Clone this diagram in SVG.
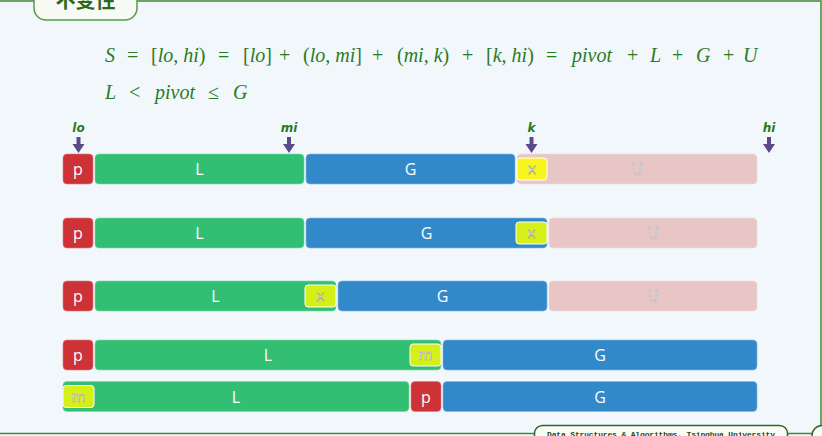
<svg xmlns="http://www.w3.org/2000/svg" width="822" height="436" viewBox="0 0 822 436">
<defs>
<style>
.bg{fill:#f2f7fc}
.frame{stroke:#3f8a33;stroke-width:1.5;fill:none}
.math{font-family:"Liberation Serif","DejaVu Serif",serif;font-size:20px;fill:#2b7a24}
.it{font-style:italic}
.lbl{font-family:"DejaVu Sans",sans-serif;font-size:12px;font-weight:bold;font-style:italic;fill:#2b7a1c;text-anchor:middle}
.arrow{fill:#5b4a8a}
.p{fill:#cc3236;stroke:#e07a7a;stroke-width:0.6}
.L{fill:#32bf74;stroke:#7cd9a6;stroke-width:0.6}
.G{fill:#3289c9;stroke:#7fb7e3;stroke-width:0.6}
.U{fill:#e8c6c6;stroke:#f0dada;stroke-width:0.6}
.xy{fill:#f8f51e;stroke:#ffffff;stroke-width:1}
.xg{fill:#d5ef18;stroke:#ffffff;stroke-width:1}
.t{font-family:"Open Sans","Noto Sans",sans-serif;font-size:16px;fill:#ffffff;text-anchor:middle}
.tu{font-family:"Open Sans","Noto Sans",sans-serif;font-size:16px;fill:#f8f8f8;stroke:#a8a0a0;stroke-width:0.5;text-anchor:middle}
.ts{font-family:"Open Sans","Noto Sans",sans-serif;font-size:15px;fill:#f6f6f6;stroke:#909090;stroke-width:0.45;text-anchor:middle}
</style>
<path id="arr" d="M-2,-16 H2 V-9 H6 L0,0 L-6,-9 H-2 Z"/>
</defs>
<rect class="bg" x="0" y="0" width="822" height="436"/>
<g id="frame">
<path class="frame" d="M0,1 H34 M137,1 H821 V433.5 M0,433.5 H534 M788,433.5 H812"/>
<rect x="34" y="-12" width="103" height="32" rx="12" fill="#f8faf6" stroke="#5a9a4a" stroke-width="1.5"/>
<text x="85.5" y="8" font-family="Noto Sans CJK SC,sans-serif" font-size="20" font-weight="bold" fill="#2a6a1a" text-anchor="middle">不变性</text>
<rect x="534.5" y="425.5" width="253" height="25" rx="8" fill="#fafcf8" stroke="#2a6a1a" stroke-width="1.5"/>
<text x="547" y="437" font-family="Liberation Mono,monospace" font-size="8" font-weight="bold" fill="#1f4a1a" textLength="228">Data Structures &amp; Algorithms, Tsinghua University</text>
<rect x="812" y="425.5" width="40" height="25" rx="10" fill="#fafcf8" stroke="#2a6a1a" stroke-width="1.5"/>
</g>
<g id="formula" class="math">
<text y="62"><tspan class="it" x="105">S</tspan><tspan x="127">=</tspan><tspan x="151">[</tspan><tspan class="it">lo</tspan><tspan>, </tspan><tspan class="it">hi</tspan><tspan>)</tspan><tspan x="218">=</tspan><tspan x="243">[</tspan><tspan class="it">lo</tspan><tspan>]</tspan><tspan x="279">+</tspan><tspan x="303">(</tspan><tspan class="it">lo</tspan><tspan>, </tspan><tspan class="it">mi</tspan><tspan>]</tspan><tspan x="372">+</tspan><tspan x="397">(</tspan><tspan class="it">mi</tspan><tspan>, </tspan><tspan class="it">k</tspan><tspan>)</tspan><tspan x="462">+</tspan><tspan x="486">[</tspan><tspan class="it">k</tspan><tspan>, </tspan><tspan class="it">hi</tspan><tspan>)</tspan><tspan x="546">=</tspan><tspan class="it" x="572">pivot</tspan><tspan x="627">+</tspan><tspan class="it" x="650">L</tspan><tspan x="672">+</tspan><tspan class="it" x="696">G</tspan><tspan x="723">+</tspan><tspan class="it" x="743">U</tspan></text>
<text y="99"><tspan class="it" x="105">L</tspan><tspan x="129">&lt;</tspan><tspan class="it" x="155">pivot</tspan><tspan x="208">≤</tspan><tspan class="it" x="233">G</tspan></text>
</g>
<g id="pointers">
<g id="ptr-lo"><text class="lbl" x="78.5" y="132">lo</text><use href="#arr" class="arrow" x="78.5" y="153"/></g>
<g id="ptr-mi"><text class="lbl" x="289" y="132">mi</text><use href="#arr" class="arrow" x="289" y="153"/></g>
<g id="ptr-k"><text class="lbl" x="531.5" y="132">k</text><use href="#arr" class="arrow" x="531.5" y="153"/></g>
<g id="ptr-hi"><text class="lbl" x="769" y="132">hi</text><use href="#arr" class="arrow" x="769" y="153"/></g>
</g>
<g id="row1">
<g id="r1-p"><rect class="p" x="63" y="154" width="30" height="30" rx="4"/><text class="t" x="78" y="175">p</text></g>
<g id="r1-L"><rect class="L" x="95" y="154" width="209" height="30" rx="4"/><text class="t" x="199.5" y="175">L</text></g>
<g id="r1-G"><rect class="G" x="306" y="154" width="209" height="30" rx="4"/><text class="t" x="410.5" y="175">G</text></g>
<g id="r1-U"><rect class="U" x="517" y="154" width="240" height="30" rx="4"/><text class="tu" x="637" y="175">U</text></g>
<g id="r1-x"><rect class="xy" x="517" y="158" width="30" height="22" rx="3"/><text class="ts" x="532" y="174">x</text></g>
</g>
<g id="row2">
<g id="r2-p"><rect class="p" x="63" y="218" width="30" height="30" rx="4"/><text class="t" x="78" y="239">p</text></g>
<g id="r2-L"><rect class="L" x="95" y="218" width="209" height="30" rx="4"/><text class="t" x="199.5" y="239">L</text></g>
<g id="r2-G"><rect class="G" x="306" y="218" width="241" height="30" rx="4"/><text class="t" x="426.5" y="239">G</text></g>
<g id="r2-x"><rect class="xg" x="516" y="222" width="31" height="22" rx="3"/><text class="ts" x="531.5" y="238">x</text></g>
<g id="r2-U"><rect class="U" x="549" y="218" width="208" height="30" rx="4"/><text class="tu" x="653" y="239">U</text></g>
</g>
<g id="row3">
<g id="r3-p"><rect class="p" x="63" y="281" width="30" height="30" rx="4"/><text class="t" x="78" y="302">p</text></g>
<g id="r3-L"><rect class="L" x="95" y="281" width="241" height="30" rx="4"/><text class="t" x="215.5" y="302">L</text></g>
<g id="r3-x"><rect class="xg" x="305" y="285" width="31" height="22" rx="3"/><text class="ts" x="320.5" y="301">x</text></g>
<g id="r3-G"><rect class="G" x="338" y="281" width="209" height="30" rx="4"/><text class="t" x="442.5" y="302">G</text></g>
<g id="r3-U"><rect class="U" x="549" y="281" width="208" height="30" rx="4"/><text class="tu" x="653" y="302">U</text></g>
</g>
<g id="row4">
<g id="r4-p"><rect class="p" x="63" y="340" width="30" height="30" rx="4"/><text class="t" x="78" y="361">p</text></g>
<g id="r4-L"><rect class="L" x="95" y="340" width="346" height="30" rx="4"/><text class="t" x="268" y="361">L</text></g>
<g id="r4-m"><rect class="xg" x="410" y="344" width="31" height="22" rx="3"/><text class="ts" x="425.5" y="360">m</text></g>
<g id="r4-G"><rect class="G" x="443" y="340" width="314" height="30" rx="4"/><text class="t" x="600" y="361">G</text></g>
</g>
<g id="row5">
<g id="r5-L"><rect class="L" x="63" y="381.5" width="346" height="30" rx="4"/><text class="t" x="236" y="402.5">L</text></g>
<g id="r5-m"><rect class="xg" x="63" y="385.5" width="31" height="22" rx="3"/><text class="ts" x="78.5" y="401.5">m</text></g>
<g id="r5-p"><rect class="p" x="411" y="381.5" width="30" height="30" rx="4"/><text class="t" x="426" y="402.5">p</text></g>
<g id="r5-G"><rect class="G" x="443" y="381.5" width="314" height="30" rx="4"/><text class="t" x="600" y="402.5">G</text></g>
</g>
</svg>
